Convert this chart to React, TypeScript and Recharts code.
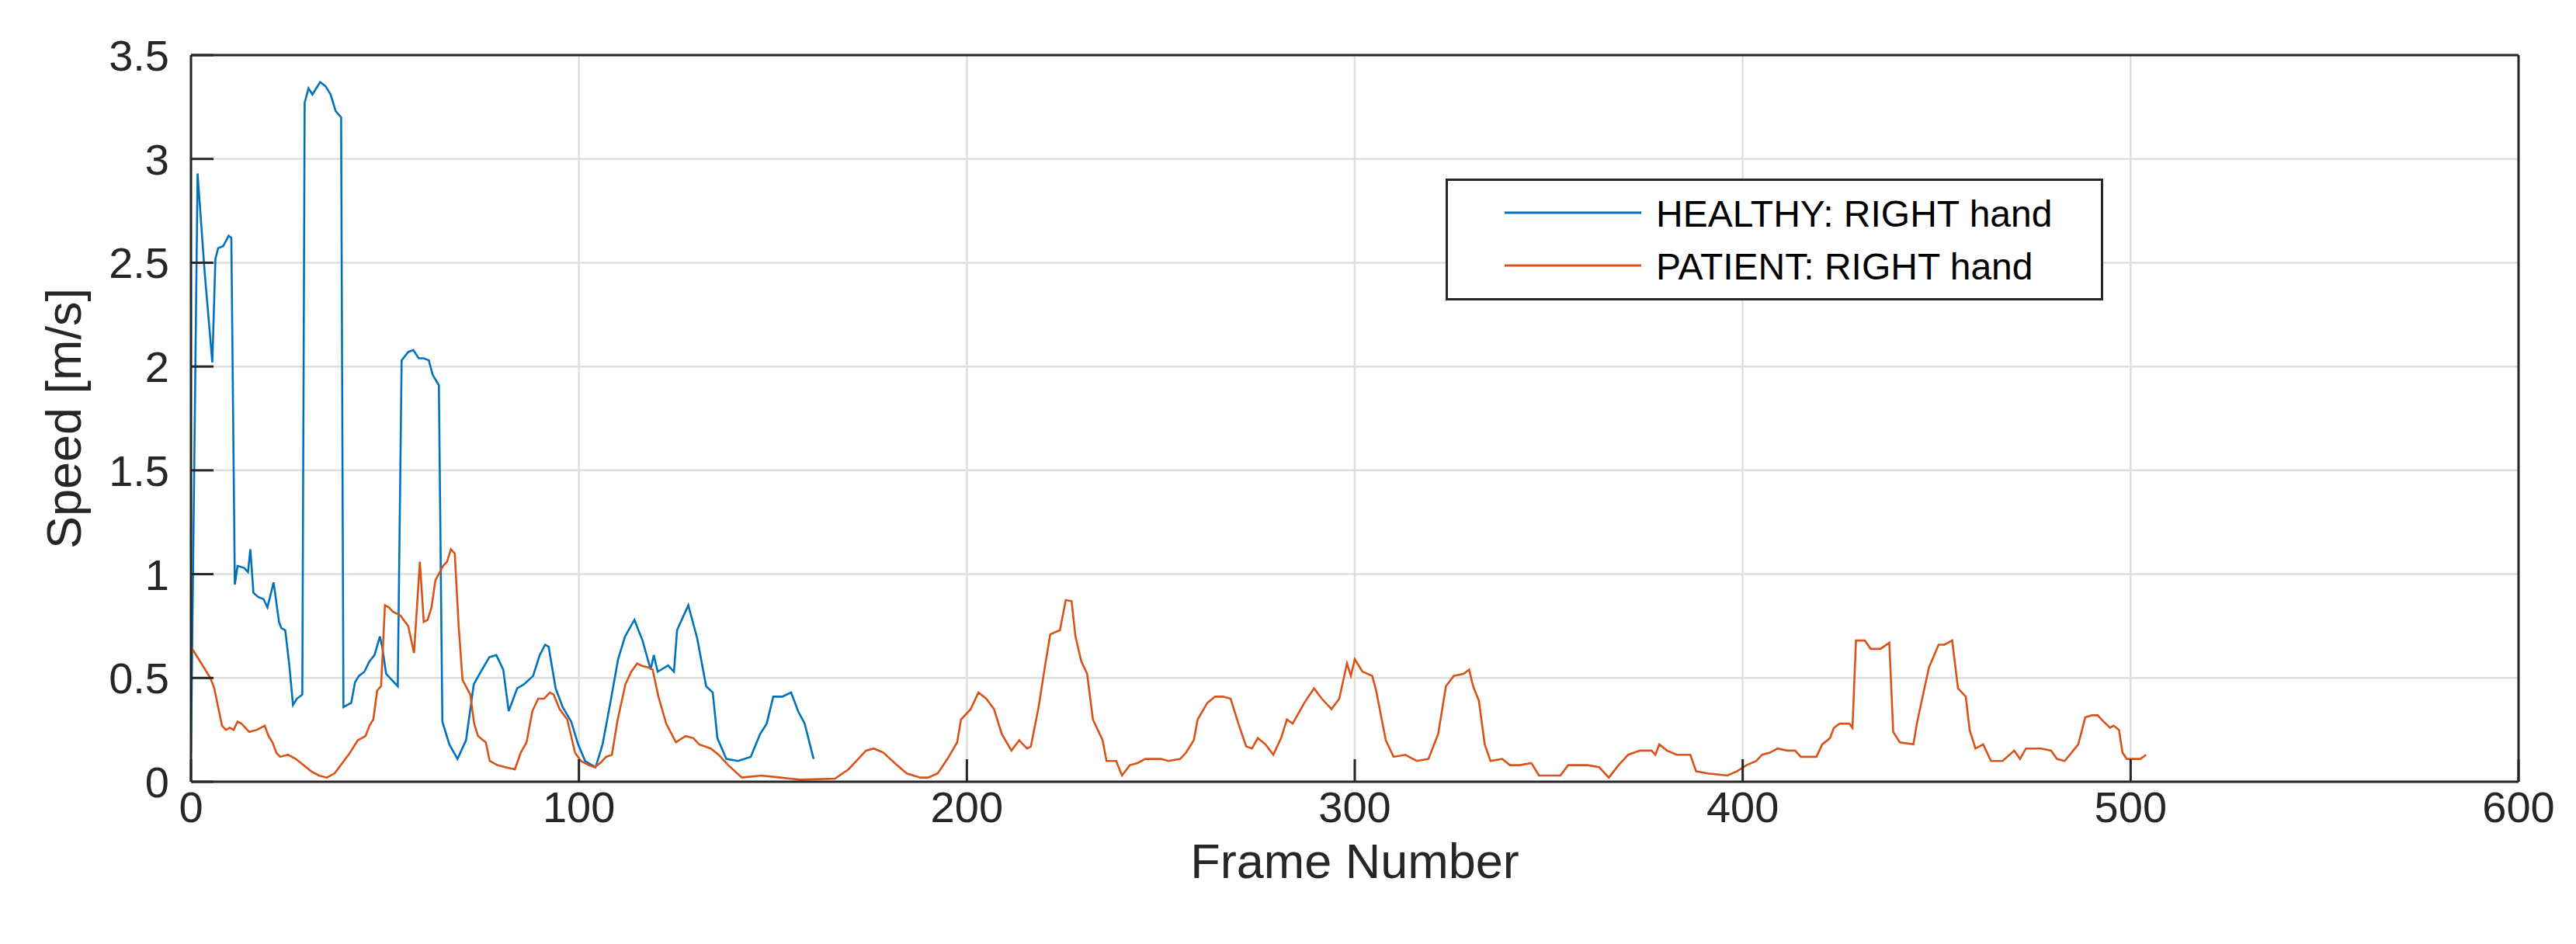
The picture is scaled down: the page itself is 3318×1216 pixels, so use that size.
import { CartesianGrid, Label, Legend, Line, LineChart, XAxis, YAxis } from 'recharts';

// frame numbers and speeds, m/s
const healthyFrames = [
  0, 1.7, 3.5, 5.5, 6.3, 7, 8.3, 9.7, 10.4, 11.3, 12, 13.7, 14.7, 15.3, 16.1, 17.3, 18.7, 19.7, 21.3, 22.7,
  23.3, 24.3, 25.3, 26.3, 27.3, 28.7, 29.3, 30.3, 31.3, 32.3, 33.3, 34.7, 36, 37.3, 38.7, 39.3, 41.3, 42.3,
  43.3, 44.7, 46, 47.3, 48.7, 49.3, 50.3, 51.3, 53.3, 54.3, 56, 57.3, 58.7, 60, 61.3, 62.3, 63.9, 64.8, 66.6,
  68.7, 70.9, 72.9, 74.7, 76.9, 78.7, 80.5, 81.9, 84.1, 85.9, 88.2, 89.9, 91.3, 92.2, 94, 95.8, 98, 99.8,
  101.6, 104.3, 106.1, 107.9, 110.1, 111.9, 114.3, 116.4, 118.5, 119.3, 120.3, 123, 124.5, 125.3, 128.2,
  130.5, 132.8, 134.5, 135.7, 138, 141, 144.3, 146.7, 148.4, 150.1, 152.4, 154.7, 156.5, 158.2, 160.5,
];
const healthySpeed = [
  0.14, 2.93, 2.46, 2.02, 2.52, 2.57, 2.58, 2.63, 2.62, 0.95, 1.04, 1.03, 1.01, 1.12, 0.91, 0.89, 0.88, 0.84,
  0.96, 0.77, 0.74, 0.73, 0.57, 0.37, 0.4, 0.42, 3.27, 3.34, 3.31, 3.34, 3.37, 3.35, 3.31, 3.23, 3.2, 0.36,
  0.38, 0.48, 0.51, 0.53, 0.58, 0.61, 0.7, 0.65, 0.52, 0.5, 0.46, 2.03, 2.07, 2.08, 2.04, 2.04, 2.03, 1.96,
  1.91, 0.29, 0.18, 0.11, 0.2, 0.47, 0.53, 0.6, 0.61, 0.54, 0.34, 0.45, 0.47, 0.51, 0.61, 0.66, 0.65, 0.45,
  0.36, 0.29, 0.18, 0.1, 0.07, 0.18, 0.36, 0.59, 0.7, 0.78, 0.68, 0.54, 0.61, 0.53, 0.56, 0.53, 0.73, 0.85,
  0.69, 0.46, 0.43, 0.21, 0.11, 0.1, 0.12, 0.23, 0.28, 0.41, 0.41, 0.43, 0.34, 0.28, 0.11,
];

const patientFrames = [
  0, 3, 5, 6, 7, 8, 9, 10, 11, 12, 13, 14, 15, 17, 19, 20, 21, 22, 23, 25, 27, 29, 31, 33, 35, 37, 39, 41,
  43, 45, 46, 47, 48, 49, 50, 51, 52, 54, 56, 57.5, 59, 60, 61, 62, 63, 65, 66, 67, 68, 69, 70, 72, 73, 74,
  76, 77, 79, 81, 83.5, 85, 86.5, 88, 89.5, 91, 92.5, 93.5, 95, 97, 99, 100.5, 102.5, 104, 105.5, 107,
  108.5, 110, 112, 113.5, 115, 116, 118, 119, 120.5, 122.5, 125, 127.5, 129.5, 131, 134, 136, 138.5, 142,
  147, 152, 157, 166, 169.5, 172, 174, 176, 178.5, 182, 184.5, 188, 190, 192.5, 195, 197.5, 198.5, 201,
  203, 205, 207, 209, 211.5, 213.5, 215.5, 216.5, 218.5, 220, 221.5, 224, 225.5, 227, 228, 229.5, 231,
  232.5, 235, 236, 238.5, 240, 242, 244, 246, 250, 252, 255, 256.5, 258.5, 259.5, 262, 264, 266, 268, 270,
  272, 273.5, 275, 277, 279, 281, 282.5, 284, 287, 289.5, 291.5, 294, 296, 298, 299, 300, 302, 304.5,
  305.5, 308, 310, 313, 316, 319, 321.5, 323.5, 325.5, 328, 329.5, 330.5, 332, 333.5, 335, 338, 340,
  342.5, 345.5, 347.5, 353, 355, 360, 363, 365.5, 368, 370.5, 373.5, 376.5, 377.5, 378.5, 380.5, 383,
  386.5, 388, 391, 396, 398.5, 401, 403.5, 405, 407, 409, 411.5, 413.5, 415, 419, 420.5, 422.5, 423.5,
  425, 427.5, 428.3, 429.2, 431.5, 433, 435.5, 437.8, 438.8, 440.5, 444, 445, 446.5, 448, 450.5, 452, 454,
  455.5, 457.5, 458.5, 460, 462, 464, 467, 470, 471.5, 473, 477, 479.5, 481, 483, 486.5, 488.3, 490,
  491.5, 493, 494.7, 495.6, 497, 497.9, 499, 501.5, 502.5, 504,
];
const patientSpeed = [
  0.65, 0.56, 0.5, 0.45, 0.36, 0.27, 0.25, 0.26, 0.25, 0.29, 0.28, 0.26, 0.24, 0.25, 0.27, 0.22, 0.19, 0.14,
  0.12, 0.13, 0.11, 0.08, 0.05, 0.03, 0.02, 0.04, 0.09, 0.14, 0.2, 0.22, 0.27, 0.3, 0.44, 0.46, 0.85, 0.84,
  0.82, 0.8, 0.75, 0.62, 1.06, 0.77, 0.78, 0.84, 0.97, 1.04, 1.06, 1.12, 1.1, 0.75, 0.49, 0.42, 0.28, 0.22,
  0.19, 0.1, 0.08, 0.07, 0.06, 0.14, 0.19, 0.34, 0.4, 0.4, 0.43, 0.42, 0.35, 0.3, 0.14, 0.1, 0.08, 0.07,
  0.09, 0.12, 0.13, 0.3, 0.47, 0.53, 0.57, 0.56, 0.55, 0.54, 0.41, 0.28, 0.19, 0.22, 0.21, 0.18, 0.16, 0.13,
  0.08, 0.02, 0.03, 0.02, 0.01, 0.015, 0.06, 0.11, 0.15, 0.16, 0.14, 0.08, 0.04, 0.02, 0.02, 0.04, 0.11,
  0.19, 0.3, 0.35, 0.43, 0.4, 0.35, 0.23, 0.15, 0.2, 0.16, 0.17, 0.36, 0.54, 0.71, 0.73, 0.875, 0.87, 0.7,
  0.58, 0.52, 0.3, 0.2, 0.1, 0.1, 0.03, 0.08, 0.09, 0.11, 0.11, 0.1, 0.11, 0.14, 0.2, 0.3, 0.38, 0.41, 0.41,
  0.4, 0.28, 0.17, 0.16, 0.21, 0.18, 0.13, 0.21, 0.3, 0.28, 0.38, 0.45, 0.4, 0.35, 0.4, 0.57, 0.51, 0.59,
  0.53, 0.51, 0.44, 0.2, 0.12, 0.13, 0.1, 0.11, 0.23, 0.46, 0.51, 0.52, 0.54, 0.46, 0.39, 0.18, 0.1, 0.11,
  0.08, 0.08, 0.09, 0.03, 0.03, 0.08, 0.08, 0.07, 0.02, 0.08, 0.13, 0.15, 0.15, 0.13, 0.18, 0.15, 0.13,
  0.13, 0.05, 0.04, 0.03, 0.05, 0.08, 0.1, 0.13, 0.14, 0.16, 0.15, 0.15, 0.12, 0.12, 0.18, 0.21, 0.26,
  0.28, 0.28, 0.26, 0.68, 0.68, 0.64, 0.64, 0.67, 0.24, 0.19, 0.18, 0.29, 0.42, 0.55, 0.66, 0.66, 0.68,
  0.45, 0.41, 0.25, 0.16, 0.18, 0.1, 0.1, 0.15, 0.11, 0.16, 0.16, 0.15, 0.11, 0.1, 0.18, 0.31, 0.32, 0.32,
  0.29, 0.26, 0.27, 0.25, 0.14, 0.11, 0.11, 0.11, 0.13,
];

const frameTicks = [0, 100, 200, 300, 400, 500, 600];
const speedTicks = [0, 0.5, 1, 1.5, 2, 2.5, 3, 3.5];
const seriesNames = ['HEALTHY: RIGHT hand', 'PATIENT: RIGHT hand'];
const seriesColors = ['#0072BD', '#D95319'];

const healthyData = healthyFrames.map((frame, i) => ({ frame, speed: healthySpeed[i] }));
const patientData = patientFrames.map((frame, i) => ({ frame, speed: patientSpeed[i] }));

const FONT = '"Liberation Sans", Arial, Helvetica, sans-serif';
const INK = '#262626';
const TICK_LEN = 29;

// plot box in page pixels
const W = 3318;
const H = 1216;
const LEFT = 246;
const TOP = 71;
const RIGHT = 3244;
const BOTTOM = 1007;

interface TickProps {
  x: number;
  y: number;
  payload: { value: number };
}

const BottomTick = ({ x, y, payload }: TickProps) => (
  <g>
    <line x1={x} x2={x} y1={y} y2={y - TICK_LEN} stroke={INK} strokeWidth={3} />
    <text x={x} y={y + 52} textAnchor="middle" fontSize={56} fill={INK} fontFamily={FONT}>
      {payload.value}
    </text>
  </g>
);

const TopTick = ({ x, y }: TickProps) => (
  <line x1={x} x2={x} y1={y} y2={y + TICK_LEN} stroke={INK} strokeWidth={3} />
);

const LeftTick = ({ x, y, payload }: TickProps) => (
  <g>
    <line x1={x} x2={x + TICK_LEN} y1={y} y2={y} stroke={INK} strokeWidth={3} />
    <text x={x - 28} y={y + 20} textAnchor="end" fontSize={56} fill={INK} fontFamily={FONT}>
      {payload.value}
    </text>
  </g>
);

const RightTick = ({ x, y }: TickProps) => (
  <line x1={x} x2={x - TICK_LEN} y1={y} y2={y} stroke={INK} strokeWidth={3} />
);

const LegendBox = () => (
  <svg width={847} height={157} style={{ display: 'block' }}>
    <rect x={1.5} y={1.5} width={844} height={154} fill="#fff" stroke={INK} strokeWidth={3} />
    {seriesNames.map((name, i) => {
      const cy = 44 + i * 68;
      return (
        <g key={name}>
          <line x1={76} x2={252} y1={cy} y2={cy} stroke={seriesColors[i]} strokeWidth={3} />
          <text x={271} y={cy + 18} fontSize={48} fill="#000" fontFamily={FONT}>
            {name}
          </text>
        </g>
      );
    })}
  </svg>
);

export default function App() {
  const yMid = (TOP + BOTTOM) / 2;
  const xMid = (LEFT + RIGHT) / 2;
  return (
    <div style={{ position: 'absolute', left: 0, top: 0, width: W, height: H, background: '#fff' }}>
      <LineChart width={W} height={H} margin={{ top: 0, right: 0, bottom: 0, left: 0 }} style={{ fontFamily: FONT }}>
        <CartesianGrid xAxisId="bottom" yAxisId="left" stroke="#dfdfdf" strokeWidth={2.5} />
        <XAxis
          xAxisId="bottom"
          dataKey="frame"
          type="number"
          domain={[0, 600]}
          ticks={frameTicks}
          interval={0}
          height={H - BOTTOM}
          tickSize={0}
          tickMargin={0}
          tickLine={false}
          axisLine={{ stroke: INK, strokeWidth: 3 }}
          tick={(p: TickProps) => <BottomTick {...p} />}
          allowDataOverflow
        >
          <Label
            content={() => (
              <text x={xMid} y={BOTTOM + 124} textAnchor="middle" fontSize={63} fill={INK} fontFamily={FONT}>
                Frame Number
              </text>
            )}
          />
        </XAxis>
        <XAxis
          xAxisId="top"
          orientation="top"
          dataKey="frame"
          type="number"
          domain={[0, 600]}
          ticks={frameTicks}
          interval={0}
          height={TOP}
          tickSize={0}
          tickMargin={0}
          tickLine={false}
          axisLine={{ stroke: INK, strokeWidth: 3 }}
          tick={(p: TickProps) => <TopTick {...p} />}
        />
        <YAxis
          yAxisId="left"
          type="number"
          domain={[0, 3.5]}
          ticks={speedTicks}
          interval={0}
          width={LEFT}
          tickSize={0}
          tickMargin={0}
          tickLine={false}
          axisLine={{ stroke: INK, strokeWidth: 3 }}
          tick={(p: TickProps) => <LeftTick {...p} />}
          allowDataOverflow
        >
          <Label
            content={() => (
              <text
                x={104}
                y={yMid}
                transform={`rotate(-90, 104, ${yMid})`}
                textAnchor="middle"
                fontSize={63}
                fill={INK}
                fontFamily={FONT}
              >
                Speed [m/s]
              </text>
            )}
          />
        </YAxis>
        <YAxis
          yAxisId="right"
          orientation="right"
          type="number"
          domain={[0, 3.5]}
          ticks={speedTicks}
          interval={0}
          width={W - RIGHT}
          tickSize={0}
          tickMargin={0}
          tickLine={false}
          axisLine={{ stroke: INK, strokeWidth: 3 }}
          tick={(p: TickProps) => <RightTick {...p} />}
        />
        <Line
          data={healthyData}
          xAxisId="bottom"
          yAxisId="left"
          dataKey="speed"
          name={seriesNames[0]}
          stroke={seriesColors[0]}
          strokeWidth={2.6}
          dot={false}
          activeDot={false}
          type="linear"
          isAnimationActive={false}
        />
        <Line
          data={patientData}
          xAxisId="bottom"
          yAxisId="left"
          dataKey="speed"
          name={seriesNames[1]}
          stroke={seriesColors[1]}
          strokeWidth={2.6}
          dot={false}
          activeDot={false}
          type="linear"
          isAnimationActive={false}
        />
        <Legend
          layout="horizontal"
          verticalAlign="middle"
          align="center"
          content={() => <LegendBox />}
          wrapperStyle={{ left: 1862, top: 230, width: 847, height: 157 }}
        />
      </LineChart>
    </div>
  );
}
